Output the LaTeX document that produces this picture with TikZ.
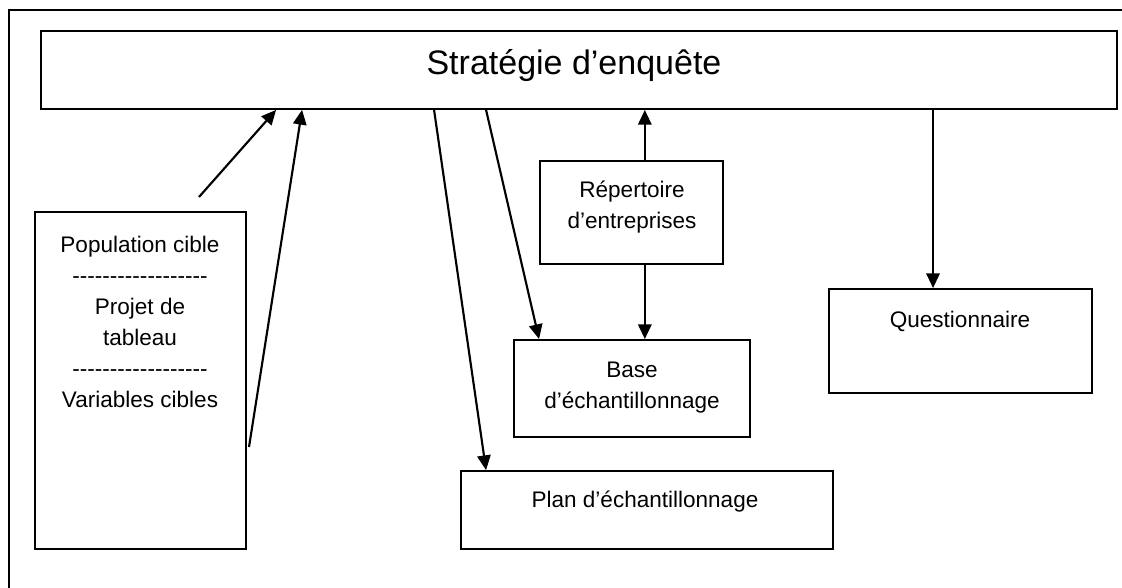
\documentclass[tikz,border=0pt]{standalone}
\usepackage{fontspec}
\setmainfont{Liberation Sans}
\usetikzlibrary{positioning, arrows.meta}

\newcommand{\sepline}{\foreach \k in {1,...,18}{-\kern0pt}}

\begin{document}
\begin{tikzpicture}[
        x=0.75pt, y=-0.75pt,
        every node/.style={font=\fontsize{16.9}{23.3}\selectfont},
        box/.style={draw, rectangle, line width=1.4pt, inner sep=0pt},
        txt/.style={align=center, inner sep=0pt},
        arr/.style={-{Triangle[length=11pt, width=10pt]}, line width=1.6pt}
    ]
    \useasboundingbox (0,0) rectangle (1122,588);

    % cadre
    \draw[line width=1.8pt] (9,588) -- (9,10) -- (1122,10);

    \node[box, minimum width=807pt, minimum height=58.5pt] (strat) at (579,70) {};
    \node[txt, font=\fontsize{25.5}{30}\selectfont] (strattxt) at (574,66) {Stratégie d’enquête};

    \node[box, minimum width=158.25pt, minimum height=252.75pt] (cible) at (140.5,380.5) {};
    \node[txt] (cibletxt) at (140,322) {Population cible\\\sepline\\Projet de\\tableau\\\sepline\\Variables cibles};

    \node[box, minimum width=137.25pt, minimum height=77.25pt] (rep) at (631.5,212.5) {};
    \node[txt] (reptxt) at (632,207) {Répertoire\\d’entreprises};

    \node[box, minimum width=177pt, minimum height=72.75pt] (base) at (632,388.5) {};
    \node[txt] (basetxt) at (632,388) {Base\\d’échantillonnage};

    \node[box, minimum width=279pt, minimum height=58.5pt] (plan) at (647,510) {};
    \node[txt] (plantxt) at (645,502) {Plan d’échantillonnage};

    \node[box, minimum width=197.25pt, minimum height=78pt] (quest) at (960.5,341) {};
    \node[txt] (questtxt) at (960,321) {Questionnaire};

    \coordinate (p1) at (199,197);
    \coordinate (p2) at (249,447);

    \draw[arr] (p1) -- ([xshift=177pt]strat.south west);
    \draw[arr] (p2) -- ([xshift=196.5pt]strat.south west);

    \draw[arr] ([xshift=295.5pt]strat.south west) -- ([xshift=19.5pt]plan.north west);
    \draw[arr] ([xshift=334.5pt]strat.south west) -- ([xshift=19.5pt]base.north west);

    \draw[arr] ([xshift=10pt]rep.north) -- ([xshift=10pt]rep.north |- strat.south);
    \draw[arr] ([xshift=10pt]rep.south) -- ([xshift=10pt]rep.south |- base.north);

    \draw[arr] ([xshift=-20.6pt]quest.north |- strat.south) -- ([xshift=-20.6pt]quest.north);

\end{tikzpicture}
\end{document}
